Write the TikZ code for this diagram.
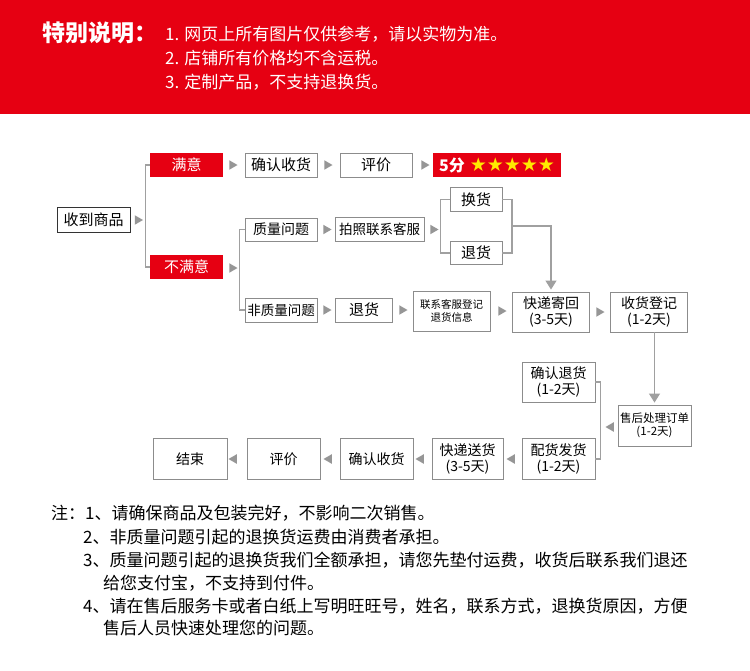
\documentclass[tikz,border=0pt]{standalone}
\usepackage{fontspec}
\usepackage{tikz}
\usetikzlibrary{arrows.meta,positioning,shapes.geometric,calc}
\newfontfamily\cjk{Noto Sans CJK SC}
\newfontfamily\symf{DejaVu Sans}
\definecolor{bannerred}{RGB}{230,0,18}
\definecolor{boxgray}{RGB}{140,140,140}
\definecolor{linkgray}{RGB}{160,160,160}
\definecolor{tipgray}{RGB}{150,150,150}
\definecolor{staryellow}{RGB}{255,234,0}
\tikzset{
  box/.style={rectangle, draw=boxgray, line width=0.9pt, fill=white, inner sep=1pt, align=center, font=\cjk\fontsize{15}{17}\selectfont},
  redbox/.style={rectangle, fill=bannerred, inner sep=1pt, text=white, font=\cjk\fontsize{15}{17}\selectfont},
  tallbox/.style={box, minimum width=77pt, minimum height=40pt, font=\cjk\fontsize{14}{16}\selectfont},
  rtri/.style={regular polygon, regular polygon sides=3, fill=tipgray, inner sep=0pt, minimum size=11pt, shape border rotate=-90},
  ltri/.style={rtri, shape border rotate=90},
  link/.style={draw=linkgray, line width=1.1pt},
  downlink/.style={link, -{Triangle[length=9pt,width=11pt]}, shorten >=2pt},
  heading/.style={anchor=west, inner sep=0pt, text=white, font=\cjk\fontsize{17}{19}\selectfont},
  note/.style={anchor=west, inner sep=0pt, font=\cjk\fontsize{17}{19}\selectfont}
}

\begin{document}
\begin{tikzpicture}[x=1pt,y=-1pt]
  \useasboundingbox (0,0) rectangle (750,670);
  \fill[white] (0,0) rectangle (750,670);

  % banner
  \fill[bannerred] (0,0) rectangle (750,114);
  \node[heading, font=\cjk\bfseries\fontsize{23}{25}\selectfont] (title) at (42,33) {特别说明：};
  \node[heading] (h1) at (165,34) {1. 网页上所有图片仅供参考，请以实物为准。};
  \node[heading] (h2) at (165,58) {2. 店铺所有价格均不含运税。};
  \node[heading] (h3) at (165,82) {3. 定制产品，不支持退换货。};

  % first rows
  \node[box, draw=black!80, minimum width=73pt, minimum height=25pt] (recv) at (93.5,220) {收到商品};
  \node[redbox, minimum width=73pt, minimum height=24pt] (sat) at (186.5,165) {满意};
  \node[redbox, minimum width=73pt, minimum height=24pt] (unsat) at (186.5,267) {不满意};
  \node[box, minimum width=72pt, minimum height=24pt] (conf1) at (281,165) {确认收货};
  \node[box, minimum width=72pt, minimum height=24pt] (eval1) at (376,165) {评价};
  \node[redbox, minimum width=128pt, minimum height=24pt] (score) at (497,165)
    {{\bfseries\fontsize{16}{18}\selectfont 5分}\hspace{5pt}{\symf\fontsize{19}{19}\selectfont\color{staryellow}★★★★★}};

  \node[box, font=\cjk\fontsize{14}{16}\selectfont, minimum width=72pt, minimum height=23pt] (qual) at (281,229.5) {质量问题};
  \node[box, font=\cjk\fontsize{13.5}{15}\selectfont, minimum width=89pt, minimum height=24pt] (photo) at (379.5,229.5) {拍照联系客服};
  \node[box, minimum width=52pt, minimum height=24pt] (exch) at (476,199.5) {换货};
  \node[box, minimum width=52pt, minimum height=23pt] (ret1) at (476,253) {退货};

  \node[box, font=\cjk\fontsize{13.5}{15}\selectfont, minimum width=72pt, minimum height=24pt] (nonq) at (281,310) {非质量问题};
  \node[box, minimum width=57pt, minimum height=24pt] (ret2) at (364,310) {退货};
  \node[tallbox, font=\cjk\fontsize{10.5}{12.5}\selectfont] (reg) at (451.5,311) {联系客服登记\\退货信息};
  \node[tallbox] (back) at (551,312) {快递寄回\\(3-5天)};
  \node[tallbox] (recvreg) at (649,312) {收货登记\\(1-2天)};

  % return path
  \node[tallbox, font=\cjk\fontsize{11.5}{13}\selectfont, minimum width=73pt, minimum height=41pt] (proc) at (654.5,425.5) {售后处理订单\\(1-2天)};
  \node[tallbox, minimum width=73pt] (confret) at (558.5,382) {确认退货\\(1-2天)};
  \node[tallbox, minimum width=73pt, minimum height=41pt] (ship) at (558.5,459) {配货发货\\(1-2天)};
  \node[tallbox, minimum width=71pt, minimum height=41pt] (deliv) at (467.5,459) {快递送货\\(3-5天)};
  \node[tallbox, minimum width=73pt, minimum height=41pt] (conf2) at (376.5,459) {确认收货};
  \node[tallbox, minimum width=73pt, minimum height=41pt] (eval2) at (283.5,459) {评价};
  \node[tallbox, minimum width=74pt, minimum height=41pt] (done) at (190,459) {结束};

  % brackets and connectors
  \draw[link] (sat.west) -- ++(-4,0) |- (unsat.west);
  \draw[link] (qual.west) -- ++(-5,0) |- (nonq.west);
  \draw[link] (exch.west) -- ++(-9,0) |- (ret1.west);
  \coordinate (join) at (512,226);
  \draw[link] (exch.east) -| (join) |- (ret1.east);
  \draw[downlink] (join) -| (back.north);
  \draw[downlink] (recvreg.south -| proc.north) -- (proc.north);
  \draw[link] (confret.east) -- ++(5,0) |- (ship.east);

  % arrow marks
  \node[rtri] (m1) at (137.5,220) {};
  \node[rtri] (m2) at (232,165) {};
  \node[rtri] (m3) at (327,165) {};
  \node[rtri] (m4) at (424,165) {};
  \node[rtri] (m5) at (232,268) {};
  \node[rtri] (m6) at (326,229.5) {};
  \node[rtri] (m7) at (433,229.5) {};
  \node[rtri] (m8) at (326,310) {};
  \node[rtri] (m9) at (402,310) {};
  \node[rtri] (m10) at (501,311) {};
  \node[rtri] (m11) at (599,312) {};
  \node[ltri] (m12) at (611,427) {};
  \node[ltri] (m13) at (512,459) {};
  \node[ltri] (m14) at (421,459) {};
  \node[ltri] (m15) at (329,459) {};
  \node[ltri] (m16) at (234,459) {};

  % notes
  \node[note] (n1) at (51,513) {注：1、请确保商品及包装完好，不影响二次销售。};
  \node[note] (n2) at (83,537) {2、非质量问题引起的退换货运费由消费者承担。};
  \node[note] (n3) at (83,560) {3、质量问题引起的退换货我们全额承担，请您先垫付运费，收货后联系我们退还};
  \node[note] (n4) at (103,583) {给您支付宝，不支持到付件。};
  \node[note] (n5) at (83,606) {4、请在售后服务卡或者白纸上写明旺旺号，姓名，联系方式，退换货原因，方便};
  \node[note] (n6) at (103,628) {售后人员快速处理您的问题。};
\end{tikzpicture}
\end{document}
